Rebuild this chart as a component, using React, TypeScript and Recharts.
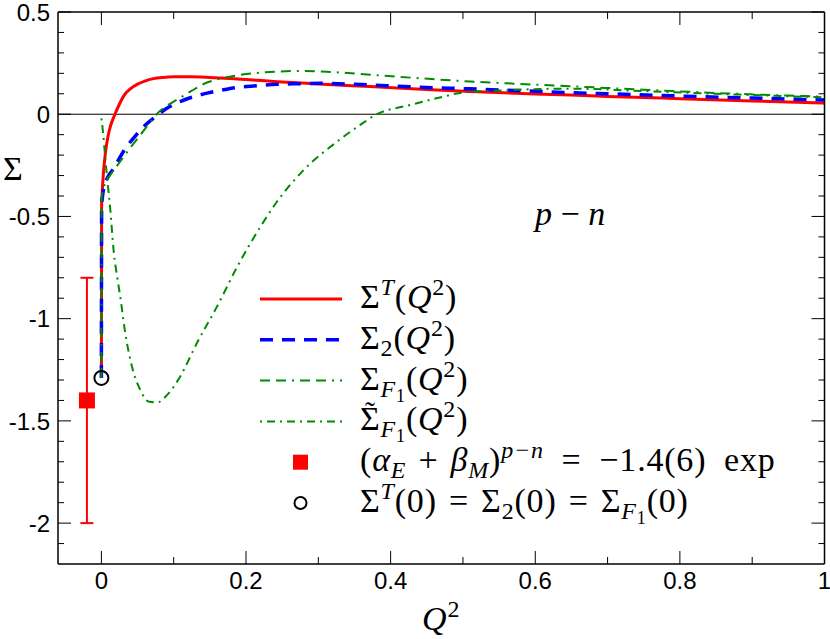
import React from 'react';
import {
  ComposedChart,
  Line,
  Scatter,
  XAxis,
  YAxis,
  ReferenceLine,
  ErrorBar,
  Legend,
} from 'recharts';

// ---------- data ----------
const sigmaT: [number, number][] = [
  [0, -1.29], [0.0003, -0.45], [0.001, -0.39], [0.003, -0.28], [0.0055, -0.19], [0.009, -0.11],
  [0.0124, -0.06], [0.019, 0.002], [0.025, 0.05], [0.031, 0.09], [0.04, 0.124], [0.05, 0.147],
  [0.06, 0.162], [0.072, 0.174], [0.085, 0.18], [0.1, 0.183], [0.123, 0.183], [0.15, 0.18],
  [0.178, 0.175], [0.2, 0.17], [0.234, 0.161], [0.27, 0.154], [0.3, 0.148], [0.372, 0.135],
  [0.45, 0.121], [0.51, 0.111], [0.6, 0.099], [0.648, 0.094], [0.7, 0.087], [0.8, 0.076],
  [0.9, 0.065], [1, 0.054],
];

const sigma2: [number, number][] = [
  [0, -1.29], [0.0003, -0.45], [0.002, -0.39], [0.0055, -0.337], [0.01, -0.3], [0.017, -0.266],
  [0.025, -0.215], [0.035, -0.158], [0.045, -0.115], [0.054, -0.077], [0.065, -0.04],
  [0.078, -0.003], [0.09, 0.028], [0.109, 0.062], [0.125, 0.083], [0.137, 0.095], [0.146, 0.103],
  [0.165, 0.117], [0.185, 0.13], [0.215, 0.139], [0.243, 0.146], [0.27, 0.149], [0.303, 0.151],
  [0.34, 0.148], [0.372, 0.143], [0.45, 0.131], [0.51, 0.124], [0.6, 0.112], [0.644, 0.106],
  [0.7, 0.1], [0.8, 0.089], [0.9, 0.079], [1, 0.069],
];

const sigmaF1: [number, number][] = [
  [0, -1.29], [0.0003, -0.42], [0.003, -0.36], [0.0124, -0.297], [0.02, -0.26], [0.031, -0.207],
  [0.042, -0.155], [0.054, -0.101], [0.065, -0.05], [0.077, 0.003], [0.09, 0.04], [0.105, 0.072],
  [0.125, 0.115], [0.146, 0.155], [0.16, 0.17], [0.188, 0.19], [0.215, 0.202], [0.247, 0.209],
  [0.28, 0.212], [0.32, 0.206], [0.372, 0.193], [0.44, 0.176], [0.51, 0.16], [0.58, 0.148],
  [0.648, 0.137], [0.75, 0.12], [0.85, 0.104], [0.95, 0.091], [1, 0.086],
];

const sigmaF1Tilde: [number, number][] = [
  [0, -0.02], [0.002, -0.08], [0.005, -0.2], [0.0085, -0.33], [0.0124, -0.47], [0.017, -0.67],
  [0.022, -0.8], [0.026, -0.89], [0.033, -1.07], [0.042, -1.23], [0.054, -1.35], [0.065, -1.405],
  [0.077, -1.41], [0.091, -1.373], [0.109, -1.283], [0.132, -1.12], [0.16, -0.94], [0.188, -0.745],
  [0.22, -0.55], [0.243, -0.427], [0.28, -0.272], [0.326, -0.134], [0.358, -0.052], [0.381, 0.0],
  [0.427, 0.045], [0.473, 0.086], [0.496, 0.104], [0.556, 0.117], [0.648, 0.125], [0.75, 0.113],
  [0.85, 0.1], [0.95, 0.088], [1, 0.082],
];

const expPoint = [{ x: -0.02, y: -1.4, err: 0.6 }];
const zeroPoint = [{ x: 0, y: -1.29 }];

const xTicks = [0, 0.1, 0.2, 0.3, 0.4, 0.5, 0.6, 0.7, 0.8, 0.9, 1];
const xMajorLabels = ['0', '0.2', '0.4', '0.6', '0.8', '1'];
const yTicks = [0.5, 0.4, 0.3, 0.2, 0.1, 0, -0.1, -0.2, -0.3, -0.4, -0.5, -0.6, -0.7, -0.8, -0.9, -1,
  -1.1, -1.2, -1.3, -1.4, -1.5, -1.6, -1.7, -1.8, -1.9, -2, -2.1];
const yMajorLabels = ['0.5', '0', '-0.5', '-1', '-1.5', '-2'];

const xDomain: [number, number] = [-0.06, 1];
const yDomain: [number, number] = [-2.2, 0.5];

const toXY = (arr: [number, number][]) => arr.map(([x, y]) => ({ x, y }));

// ---------- styles / geometry ----------
const RED = '#ff0000';
const BLUE = '#0000ff';
const GREEN = '#008b00';
const SANS = 'Liberation Sans';
const SERIF = 'Liberation Serif';

const CH_W = 830;
const CH_H = 639;
const M = { top: 12, right: 5.5, bottom: 0, left: 0 };
const Y_AXIS_W = 58;
const X_AXIS_H = 75;
const plotW = CH_W - M.left - M.right - Y_AXIS_W;
const plotH = CH_H - M.top - M.bottom - X_AXIS_H;

const fmt = (v: number) => String(Math.round(v * 10) / 10);
const isXMajor = (v: number) => xMajorLabels.includes(fmt(v));
const isYMajor = (v: number) => yMajorLabels.includes(fmt(v));

// bottom tick + its mirror on the top frame; the last tick also draws the right frame
const BottomTick = (props: any) => {
  const { x, y, payload } = props;
  const major = isXMajor(payload.value);
  const len = major ? 13 : 7;
  const top = y - plotH;
  return (
    <g>
      <line x1={x} x2={x} y1={y} y2={y - len} stroke="#000" strokeWidth={1} />
      <line x1={x} x2={x} y1={top} y2={top + len} stroke="#000" strokeWidth={1} />
      {payload.value === xDomain[1] && (
        <line x1={x} x2={x} y1={y} y2={top} stroke="#000" strokeWidth={1.5} />
      )}
      {major && (
        <text x={x} y={y + 25} textAnchor="middle" fontFamily={SANS} fontSize={24} fill="#000">
          {fmt(payload.value)}
        </text>
      )}
    </g>
  );
};

// left tick + its mirror on the right frame; the top tick also draws the top frame
const LeftTick = (props: any) => {
  const { x, y, payload } = props;
  const major = isYMajor(payload.value);
  const len = major ? 13 : 6;
  const right = x + plotW;
  return (
    <g>
      <line x1={x} x2={x + len} y1={y} y2={y} stroke="#000" strokeWidth={1} />
      <line x1={right} x2={right - len} y1={y} y2={y} stroke="#000" strokeWidth={1} />
      {payload.value === yDomain[1] && (
        <line x1={x} x2={right} y1={y} y2={y} stroke="#000" strokeWidth={1.5} />
      )}
      {major && (
        <text x={x - 8} y={y} dy="0.36em" textAnchor="end" fontFamily={SANS} fontSize={24} fill="#000">
          {fmt(payload.value)}
        </text>
      )}
    </g>
  );
};

// ---------- legend ----------
type Seg = { t: string; lvl?: 0 | 1 | 2 | 3; i?: boolean };
// lvl: 0 base, 1 superscript, 2 subscript, 3 sub-subscript
const LVL_DY = [0, -13, 7, 12];
const LVL_FS = [34, 24, 24, 18];
const S3 = '\u2004';
const S2 = '\u2002';
const EQ = S3 + '=' + S3;

const MathText = ({ x, y, segs }: { x: number; y: number; segs: Seg[] }) => {
  let cur = 0;
  return (
    <text x={x} y={y} fontFamily={SERIF} fill="#000" fontSize={34} letterSpacing={0.8}>
      {segs.map((s, k) => {
        const lvl = s.lvl ?? 0;
        const dy = LVL_DY[lvl] - cur;
        cur = LVL_DY[lvl];
        return (
          <tspan key={k} dy={dy} fontSize={LVL_FS[lvl]} fontStyle={s.i ? 'italic' : 'normal'}>
            {s.t}
          </tspan>
        );
      })}
    </text>
  );
};

const legendRows: { kind: string; tilde?: boolean; segs: Seg[] }[] = [
  { kind: 'red', segs: [{ t: 'Σ' }, { t: 'T', lvl: 1, i: true }, { t: '(' }, { t: 'Q', i: true }, { t: '2', lvl: 1 }, { t: ')' }] },
  { kind: 'blue', segs: [{ t: 'Σ' }, { t: '2', lvl: 2 }, { t: '(' }, { t: 'Q', i: true }, { t: '2', lvl: 1 }, { t: ')' }] },
  { kind: 'greenA', segs: [{ t: 'Σ' }, { t: 'F', lvl: 2, i: true }, { t: '1', lvl: 3 }, { t: '(' }, { t: 'Q', i: true }, { t: '2', lvl: 1 }, { t: ')' }] },
  { kind: 'greenB', tilde: true, segs: [{ t: 'Σ' }, { t: 'F', lvl: 2, i: true }, { t: '1', lvl: 3 }, { t: '(' }, { t: 'Q', i: true }, { t: '2', lvl: 1 }, { t: ')' }] },
  { kind: 'square', segs: [{ t: '(' }, { t: 'α', i: true }, { t: 'E', lvl: 2, i: true }, { t: S3 + '+' + S3 }, { t: 'β', i: true }, { t: 'M', lvl: 2, i: true }, { t: ')' }, { t: 'p−n', lvl: 1, i: true }, { t: S2 + '=' + S2 + '−1.4(6)' + S2 + 'exp' }] },
  { kind: 'circle', segs: [{ t: 'Σ' }, { t: 'T', lvl: 1, i: true }, { t: '(0)' + EQ + 'Σ' }, { t: '2', lvl: 2 }, { t: '(0)' + EQ + 'Σ' }, { t: 'F', lvl: 2, i: true }, { t: '1', lvl: 3 }, { t: '(0)' }] },
];

const renderLegend = () => {
  const rowY = (i: number) => 29 + i * 40.8;
  return (
    <svg width={570} height={260} style={{ display: 'block', overflow: 'visible' }}>
      {legendRows.map((r, i) => {
        const y = rowY(i);
        let sample: React.ReactNode = null;
        if (r.kind === 'red') sample = <line x1={10} x2={92} y1={y} y2={y} stroke={RED} strokeWidth={3} />;
        if (r.kind === 'blue') sample = <line x1={10} x2={92} y1={y} y2={y} stroke={BLUE} strokeWidth={3.5} strokeDasharray="13 9" />;
        if (r.kind === 'greenA') sample = <line x1={10} x2={92} y1={y} y2={y} stroke={GREEN} strokeWidth={2} strokeDasharray="10 6 10 6 2 6" />;
        if (r.kind === 'greenB') sample = <line x1={10} x2={92} y1={y} y2={y} stroke={GREEN} strokeWidth={2} strokeDasharray="2 5 8 5" />;
        if (r.kind === 'square') sample = <rect x={43} y={y - 7.5} width={15} height={15} fill={RED} />;
        if (r.kind === 'circle') sample = <circle cx={50.5} cy={y} r={6} fill="none" stroke="#000" strokeWidth={2} />;
        return (
          <g key={i}>
            {sample}
            <MathText x={110} y={y + 9} segs={r.segs} />
            {r.tilde && (
              <text x={120} y={y + 1} textAnchor="middle" fontFamily={SERIF} fontSize={30} fill="#000">˜</text>
            )}
          </g>
        );
      })}
    </svg>
  );
};

const SquareShape = (p: any) => <rect x={p.cx - 8} y={p.cy - 8} width={16} height={16} fill={RED} />;
const CircleShape = (p: any) => <circle cx={p.cx} cy={p.cy} r={7} fill="none" stroke="#000" strokeWidth={2} />;

export default function App() {
  return (
    <div style={{ position: 'absolute', left: 0, top: 0, width: CH_W, height: CH_H, background: '#fff' }}>
      <ComposedChart width={CH_W} height={CH_H} margin={M}>
        <XAxis xAxisId="b" type="number" dataKey="x" domain={xDomain} allowDataOverflow ticks={xTicks} interval={0}
          orientation="bottom" height={X_AXIS_H} tickSize={0} tickMargin={0} tickLine={false} tick={<BottomTick />}
          axisLine={{ stroke: '#000', strokeWidth: 1.5 }} />
        <YAxis yAxisId="l" type="number" domain={yDomain} allowDataOverflow ticks={yTicks} interval={0}
          orientation="left" width={Y_AXIS_W} tickSize={0} tickMargin={0} tickLine={false} tick={<LeftTick />}
          axisLine={{ stroke: '#000', strokeWidth: 1.5 }} />
        <ReferenceLine xAxisId="b" yAxisId="l" y={0} stroke="#000" strokeWidth={1} />
        <Line xAxisId="b" yAxisId="l" data={toXY(sigmaT)} dataKey="y" type="monotone" stroke={RED} strokeWidth={3} dot={false} activeDot={false} isAnimationActive={false} />
        <Line xAxisId="b" yAxisId="l" data={toXY(sigma2)} dataKey="y" type="monotone" stroke={BLUE} strokeWidth={3.5} strokeDasharray="13 9" dot={false} activeDot={false} isAnimationActive={false} />
        <Line xAxisId="b" yAxisId="l" data={toXY(sigmaF1)} dataKey="y" type="monotone" stroke={GREEN} strokeWidth={2} strokeDasharray="10 6 10 6 2 6" dot={false} activeDot={false} isAnimationActive={false} />
        <Line xAxisId="b" yAxisId="l" data={toXY(sigmaF1Tilde)} dataKey="y" type="monotone" stroke={GREEN} strokeWidth={2} strokeDasharray="2 5 8 5" dot={false} activeDot={false} isAnimationActive={false} />
        <Scatter xAxisId="b" yAxisId="l" data={expPoint} dataKey="y" shape={SquareShape} isAnimationActive={false}>
          <ErrorBar dataKey="err" direction="y" width={6.5} stroke={RED} strokeWidth={2} isAnimationActive={false} />
        </Scatter>
        <Scatter xAxisId="b" yAxisId="l" data={zeroPoint} dataKey="y" shape={CircleShape} isAnimationActive={false} />
        <Legend layout="vertical" align="center" verticalAlign="middle" content={renderLegend}
          wrapperStyle={{ left: 250, top: 270, width: 570, height: 260 }} />
      </ComposedChart>
      <svg width={CH_W} height={CH_H} style={{ position: 'absolute', left: 0, top: 0, pointerEvents: 'none' }}>
        <text x={3} y={180} fontFamily={SERIF} fontSize={34} fill="#000">Σ</text>
        <text x={422} y={630} fontFamily={SERIF} fontSize={34} fill="#000">
          <tspan fontStyle="italic">Q</tspan>
          <tspan dx={1} dy={-13} fontSize={24}>2</tspan>
        </text>
        <text x={535} y={225} fontFamily={SERIF} fontSize={34} fill="#000">
          <tspan fontStyle="italic">p</tspan>
          <tspan>{'\u2005−\u2005'}</tspan>
          <tspan fontStyle="italic">n</tspan>
        </text>
      </svg>
    </div>
  );
}
